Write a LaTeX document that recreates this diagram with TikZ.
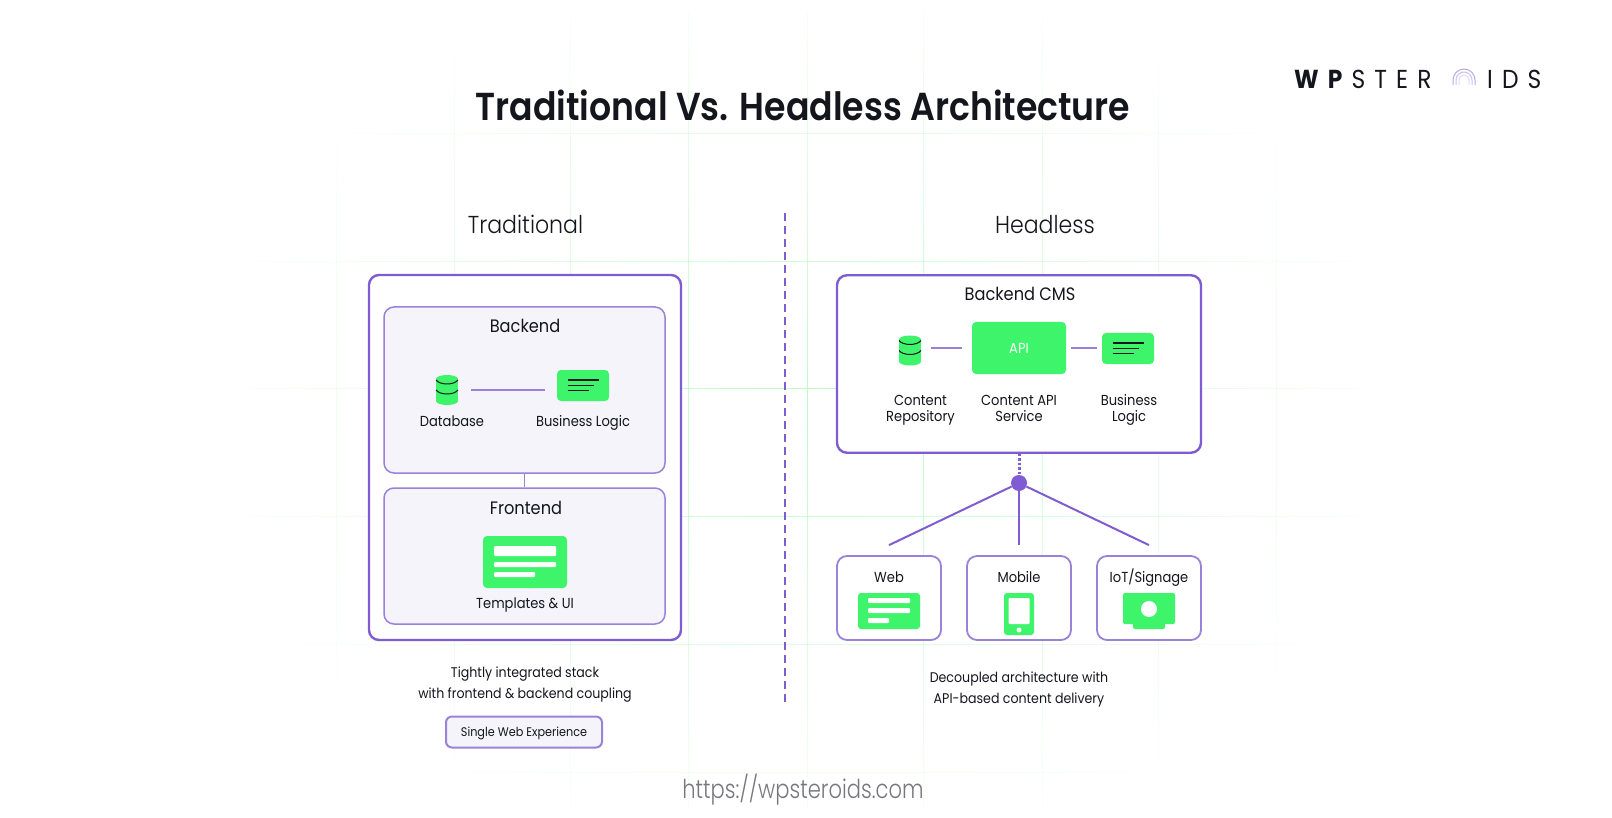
\documentclass[tikz,border=0pt]{standalone}
\usepackage{fontspec}
\usepackage{xcolor}
\setmainfont{Poppins}[FakeStretch=0.9]
\newfontfamily\lightfont{Poppins Light}[FakeStretch=0.9]
\newfontfamily\urlfont{Poppins Light}[FakeStretch=0.81]
\newfontfamily\midfont{Poppins SemiBold}[FakeStretch=0.89]
\usetikzlibrary{positioning,calc,fadings}
\definecolor{ink}{HTML}{15151E}
\definecolor{violet}{HTML}{7F5CD1}
\definecolor{softviolet}{HTML}{9A82D8}
\definecolor{mint}{HTML}{3EF46B}
\definecolor{panelgray}{HTML}{F4F4FA}
\definecolor{gridgreen}{HTML}{BDF9C6}
\definecolor{urlgray}{HTML}{77777D}
\tikzfading[name=gridfade, inner color=transparent!0, outer color=transparent!100]
\tikzset{
    txt/.style={inner sep=0pt, text=ink, align=center, text height=13pt, text depth=3pt, font=\fontsize{14.5}{16}\selectfont},
    note/.style={txt, font=\fontsize{14}{21}\selectfont},
    heading/.style={txt, text height=16pt, text depth=3.4pt, font=\fontsize{18}{20}\selectfont},
    column/.style={txt, text height=22pt, text depth=5pt, font=\lightfont\fontsize{24.5}{28}\selectfont},
    bigbox/.style={draw=violet, line width=2.4pt, rounded corners=10pt, fill=white, inner sep=0pt},
    panel/.style={draw=softviolet, line width=1.5pt, rounded corners=10pt, fill=panelgray, inner sep=0pt},
    device/.style={draw=softviolet, line width=1.8pt, rounded corners=10pt, fill=white, inner sep=0pt},
    glyph/.style={fill=mint, rounded corners=4pt, inner sep=0pt},
    can/.style={fill=mint, inner sep=0pt, minimum width=22pt, minimum height=22pt},
    link/.style={draw=softviolet, line width=1.8pt},
    spoke/.style={draw=violet, line width=2pt},
    bar/.style={fill=white, rounded corners=1pt},
}
% database and logic icons
\newcommand{\dbglyph}[3]{
    \node[can] (#1) at (#2,#3) {};
    \fill[mint, shift={(#2,#3)}] (0,-11) ellipse [x radius=11pt, y radius=4pt] (0,11) ellipse [x radius=11pt, y radius=4pt];
    \draw[ink, line width=1pt, shift={(#2,#3)}] (-11,-10) .. controls (-7,-4.7) and (7,-4.7) .. (11,-10);
    \draw[ink, line width=1pt, shift={(#2,#3)}] (-11,0) .. controls (-7,5.3) and (7,5.3) .. (11,0);
}
\newcommand{\logicglyph}[3]{
    \node[glyph, minimum width=52pt, minimum height=31pt] (#1) at (#2,#3) {};
    \draw[ink, line width=1.2pt, shift={(#2,#3)}] (-15.5,-5.5) -- (16,-5.5) (-15.5,0) -- (11,0) (-15.5,5) -- (6,5);
}
\begin{document}
\begin{tikzpicture}[x=1pt, y=-1pt]
    \useasboundingbox (0,0) rectangle (1612,818);
    % faint grid behind everything
    \begin{scope}
        \path[scope fading=gridfade] (183,-50) rectangle (1423,870);
        \foreach \gx in {337,455,571,689,808,924,1043,1159,1277}
            \draw[gridgreen, line width=1.4pt] (\gx,10) -- (\gx,810);
        \foreach \gy in {133,261,388,516,644,772}
            \draw[gridgreen, line width=1.4pt] (250,\gy) -- (1360,\gy);
    \end{scope}

    \node[txt, text height=35pt, text depth=8pt, font=\midfont\fontsize{39}{42}\selectfont] (title) at (803,107) {Traditional Vs. Headless Architecture};
    \node[txt, text height=23pt, text depth=5pt, font=\fontsize{26}{28}\selectfont, anchor=west] (logoleft) at (1294,80) {\addfontfeatures{LetterSpace=35}\textbf{WP}STER};
    \node[txt, text height=23pt, text depth=5pt, font=\fontsize{26}{28}\selectfont, anchor=west] (logoright) at (1487,80) {\addfontfeatures{LetterSpace=35}IDS};
    \coordinate (arcs) at (1464,80);
    \draw[softviolet!70, line width=1pt] ($(arcs)+(-11,5)$) -- ++(0,-5) .. controls +(0,-6) and +(-6,0) .. ++(11,-11) .. controls +(6,0) and +(0,-6) .. ++(11,11) -- ++(0,5);
    \draw[softviolet!50, line width=1pt] ($(arcs)+(-8,5)$) -- ++(0,-5) .. controls +(0,-4.4) and +(-4.4,0) .. ++(8,-8) .. controls +(4.4,0) and +(0,-4.4) .. ++(8,8) -- ++(0,5);
    \draw[softviolet!30, line width=1pt] ($(arcs)+(-5,5)$) -- ++(0,-5) .. controls +(0,-2.8) and +(-2.8,0) .. ++(5,-5) .. controls +(2.8,0) and +(0,-2.8) .. ++(5,5) -- ++(0,5);

    \node[column] (tradhead) at (525.5,225) {Traditional};
    \node[column] (headhead) at (1045,225) {Headless};
    \coordinate (dividertop) at (785,213);
    \coordinate (dividerend) at (785,702);
    \draw[violet, line width=1.6pt, dash pattern=on 8pt off 5pt] (dividertop) -- (dividerend);

    % traditional side
    \node[bigbox, minimum width=312pt, minimum height=365pt] (stack) at (525,457.5) {};
    \node[panel, minimum width=281pt, minimum height=166pt] (backend) at (524.5,390) {};
    \node[panel, minimum width=281pt, minimum height=136pt] (frontend) at (524.5,556) {};
    \draw[link] (backend) -- (frontend);
    \node[heading] (backendtxt) at (525,326) {Backend};
    \node[heading] (frontendtxt) at (526,508) {Frontend};
    \dbglyph{db}{447}{390}
    \logicglyph{logic}{583}{385.5}
    \draw[link, shorten <=13pt, shorten >=12pt] (db.east) -- (db.east -| logic.west);
    \node[txt] (dbtxt) at (452,421) {Database};
    \node[txt] (logictxt) at (583,421) {Business Logic};
    \node[glyph, minimum width=84pt, minimum height=52pt] (ui) at (525,562) {};
    \fill[bar] (494,546) rectangle (556,556);
    \fill[bar] (494,562) rectangle (556,567);
    \fill[bar] (494,572) rectangle (535,577);
    \node[txt] (uitxt) at (525,603) {Templates \& UI};
    \node[note] (tradnote) at (525,693) {Tightly integrated stack\\with frontend \& backend coupling};
    \node[device, fill=panelgray, line width=2pt, rounded corners=6pt, minimum width=156pt, minimum height=31pt, text height=10.5pt, text depth=2pt, font=\fontsize{12.5}{14}\selectfont, text=ink] (single) at (524,732) {Single Web Experience};

    % headless side
    \node[bigbox, minimum width=364pt, minimum height=177.5pt] (cms) at (1019,364) {};
    \node[heading] (cmstxt) at (1020,294) {Backend CMS};
    \dbglyph{repo}{910}{350.5}
    \node[glyph, minimum width=94pt, minimum height=52pt, text=white, font=\fontsize{14.5}{16}\selectfont] (api) at (1019,348) {API};
    \logicglyph{cmslogic}{1128}{348.5}
    \draw[link, shorten <=10pt, shorten >=10pt] (repo.east |- api.west) -- (api.west);
    \draw[link, shorten <=5pt, shorten >=5pt] (api.east) -- (api.east -| cmslogic.west);
    \node[txt, font=\fontsize{14.5}{16}\selectfont] (repotxt) at (920.5,416) {Content\\Repository};
    \node[txt, font=\fontsize{14.5}{16}\selectfont] (apitxt) at (1019,416) {Content API\\Service};
    \node[txt, font=\fontsize{14.5}{16}\selectfont] (cmslogictxt) at (1129,416) {Business\\Logic};

    \node[circle, fill=violet, minimum size=16pt, inner sep=0pt] (hub) at (1019,483) {};
    \draw[violet, line width=3pt, dash pattern=on 2.5pt off 2pt] (cms.south) -- (hub.north);
    \node[device, minimum width=104pt, minimum height=84pt] (web) at (889,598) {};
    \node[device, minimum width=104pt, minimum height=84pt] (mobile) at (1019,598) {};
    \node[device, minimum width=104pt, minimum height=84pt] (iot) at (1149,598) {};
    \draw[spoke] (hub) -- ($(web.north)+(0,-10)$);
    \draw[spoke] (hub) -- ($(mobile.north)+(0,-10)$);
    \draw[spoke] (hub) -- ($(iot.north)+(0,-10)$);
    \node[txt] (webtxt) at (889,577) {Web};
    \node[txt] (mobiletxt) at (1019,577) {Mobile};
    \node[txt] (iottxt) at (1149,577) {IoT/Signage};
    \node[glyph, minimum width=62pt, minimum height=36pt, rounded corners=3pt] (webicon) at (889,611) {};
    \fill[bar] (868,598) rectangle (910,603);
    \fill[bar] (868,608) rectangle (910,613);
    \fill[bar] (868,618) rectangle (889,623);
    \node[glyph, minimum width=30pt, minimum height=42pt, rounded corners=3pt] (phone) at (1019,614) {};
    \fill[bar] (1008.5,598) rectangle (1029.5,624);
    \node[circle, fill=white, minimum size=5pt, inner sep=0pt] (phonebtn) at (1019,630) {};
    \node[glyph, minimum width=32pt, minimum height=15pt, rounded corners=2pt] (iotfoot) at (1149,621.5) {};
    \node[glyph, minimum width=52pt, minimum height=31pt, rounded corners=2pt] (screen) at (1149,608.5) {};
    \node[circle, fill=white, minimum size=16pt, inner sep=0pt] (screendot) at (1149,609) {};
    \node[note] (headnote) at (1019,698) {Decoupled architecture with\\API-based content delivery};

    \node[txt, text=urlgray, text height=24pt, text depth=6pt, font=\urlfont\fontsize{26}{28}\selectfont] (url) at (803,789) {https://wpsteroids.com};
\end{tikzpicture}
\end{document}
